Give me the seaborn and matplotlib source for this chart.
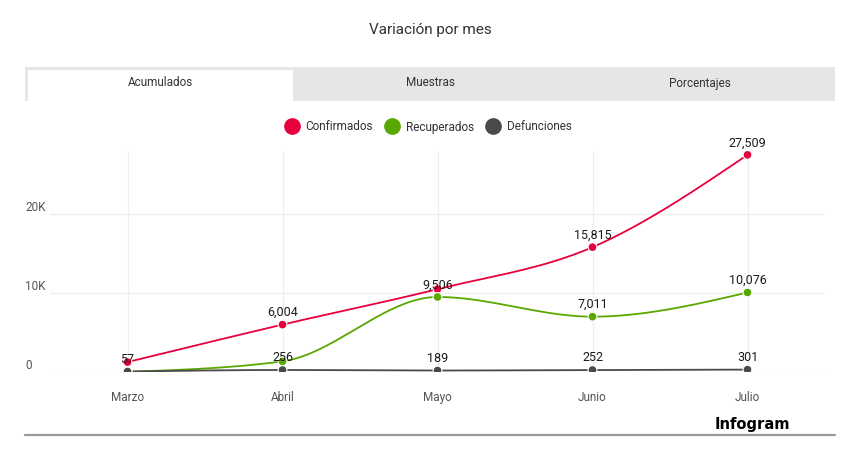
import matplotlib
matplotlib.use('Agg')
import numpy as np
import pandas as pd
import matplotlib.pyplot as plt
import seaborn as sns
from matplotlib.patches import Rectangle
from matplotlib.lines import Line2D
import matplotlib.transforms as mtransforms

# Datos
meses = ['Marzo', 'Abril', 'Mayo', 'Junio', 'Julio']
confirmados = [1260, 6004, 10500, 15815, 27509]
recuperados = [30, 1350, 9506, 7011, 10076]
defunciones = [57, 256, 189, 252, 301]
series_nombres = ['Confirmados', 'Recuperados', 'Defunciones']
tabs = ['Acumulados', 'Muestras', 'Porcentajes']
y_ticks = [0, 10000, 20000]
y_tick_labels = ['0', '10K', '20K']
# etiquetas tapadas en el original (serie, mes)
ocultas = {('Confirmados', 'Marzo'), ('Confirmados', 'Mayo'),
           ('Recuperados', 'Marzo'), ('Recuperados', 'Abril')}

colores = {'Confirmados': '#e8003d', 'Recuperados': '#5aa700', 'Defunciones': '#4a4a4a'}

df = pd.DataFrame({'mes': meses, 'Confirmados': confirmados,
                   'Recuperados': recuperados, 'Defunciones': defunciones})
df['x'] = np.arange(len(meses))
df_largo = df.melt(id_vars=['mes', 'x'], value_vars=series_nombres,
                   var_name='serie', value_name='valor')


def curva_monotona(y, n=50):
    # interpolación monotona tipo d3.curveMonotoneX, solo para el trazo
    y = np.asarray(y, float)
    m = len(y)
    d = np.diff(y)
    t = np.zeros(m)
    for k in range(1, m - 1):
        s0, s1 = d[k - 1], d[k]
        p = (s0 + s1) / 2
        t[k] = (np.sign(s0) + np.sign(s1)) * min(abs(s0), abs(s1), 0.5 * abs(p))
    t[0] = (3 * d[0] - t[1]) / 2
    t[-1] = (3 * d[-1] - t[-2]) / 2
    xs, ys = [], []
    u = np.linspace(0, 1, n)
    h00 = 2 * u**3 - 3 * u**2 + 1
    h10 = u**3 - 2 * u**2 + u
    h01 = -2 * u**3 + 3 * u**2
    h11 = u**3 - u**2
    for k in range(m - 1):
        xs.append(k + u)
        ys.append(h00 * y[k] + h10 * t[k] + h01 * y[k + 1] + h11 * t[k + 1])
    return np.concatenate(xs), np.concatenate(ys)


sns.set_theme(style='white')
plt.rcParams['font.family'] = ['Roboto', 'DejaVu Sans']

W, H = 857, 453
fig = plt.figure(figsize=(W / 100, H / 100), dpi=100)
fig.patch.set_facecolor('white')


def fx(px):
    return px / W


def fy(py):
    return 1 - py / H


ax = fig.add_axes([fx(50), fy(372), fx(825) - fx(50), fy(151) - fy(372)])
ax.set_facecolor('white')

for xv in df['x']:
    ax.axvline(xv, color='#eeeeee', lw=0.9, zorder=0)
for yv in y_ticks:
    ax.axhline(yv, color='#eeeeee', lw=0.9, zorder=0)

for s in series_nombres:
    cx, cy = curva_monotona(df[s])
    ax.plot(cx, cy, color=colores[s], lw=1.3, zorder=2)

sns.scatterplot(data=df_largo, x='x', y='valor', hue='serie', palette=colores,
                s=40, edgecolor='white', linewidth=0.8, legend=False, ax=ax, zorder=3)

for _, r in df_largo.iterrows():
    if (r['serie'], r['mes']) in ocultas:
        continue
    ax.annotate(f"{int(r['valor']):,}", (r['x'], r['valor']), xytext=(0, 4),
                textcoords='offset points', ha='center', va='bottom',
                fontsize=9, color='#1a1a1a', zorder=4)

ax.set_xlim(-0.5, 4.5)
ax.set_ylim(0, 28000)
ax.set_xticks(df['x'])
ax.set_xticklabels(meses, fontsize=8.5, color='#555555')
ax.tick_params(axis='x', length=0, pad=14)
ax.set_yticks([])
ax.set_xlabel('')
ax.set_ylabel('')
for sp in ax.spines.values():
    sp.set_visible(False)

trans = mtransforms.blended_transform_factory(ax.transAxes, ax.transData)
for yv, lab in zip(y_ticks, y_tick_labels):
    ax.text(-0.032, yv, lab, transform=trans, ha='left', va='bottom',
            fontsize=8.5, color='#555555')

# título y pestañas
fig.text(fx(430), fy(30), 'Variación por mes', ha='center', va='center',
         fontsize=11, color='#333333')
fig.add_artist(Rectangle((fx(25), fy(101)), fx(835) - fx(25), fy(67) - fy(101),
                         transform=fig.transFigure, facecolor='#e6e6e6', edgecolor='none'))
fig.add_artist(Rectangle((fx(28), fy(101)), fx(293) - fx(28), fy(70) - fy(101),
                         transform=fig.transFigure, facecolor='white', edgecolor='none'))
for xt, t in zip([160, 430, 700], tabs):
    fig.text(fx(xt), fy(83), t, ha='center', va='center', fontsize=8.5, color='#333333')

# leyenda
handles = [Line2D([], [], marker='o', ls='none', markersize=11,
                  markerfacecolor=colores[s], markeredgecolor=colores[s]) for s in series_nombres]
fig.legend(handles, series_nombres, loc='center', bbox_to_anchor=(fx(426), fy(127)),
           ncol=3, frameon=False, fontsize=8.5, handletextpad=0.2, columnspacing=0.6,
           labelcolor='#333333')

# pie
fig.add_artist(Line2D([fx(25), fx(835)], [fy(435), fy(435)], transform=fig.transFigure,
                      color='#9a9a9a', lw=1.6))
fig.text(fx(790), fy(424), 'Infogram', ha='right', va='center', fontsize=10.6,
         fontweight='heavy', color='black', family=['DejaVu Sans'])

fig.savefig('out.png', dpi=100, facecolor='white')
